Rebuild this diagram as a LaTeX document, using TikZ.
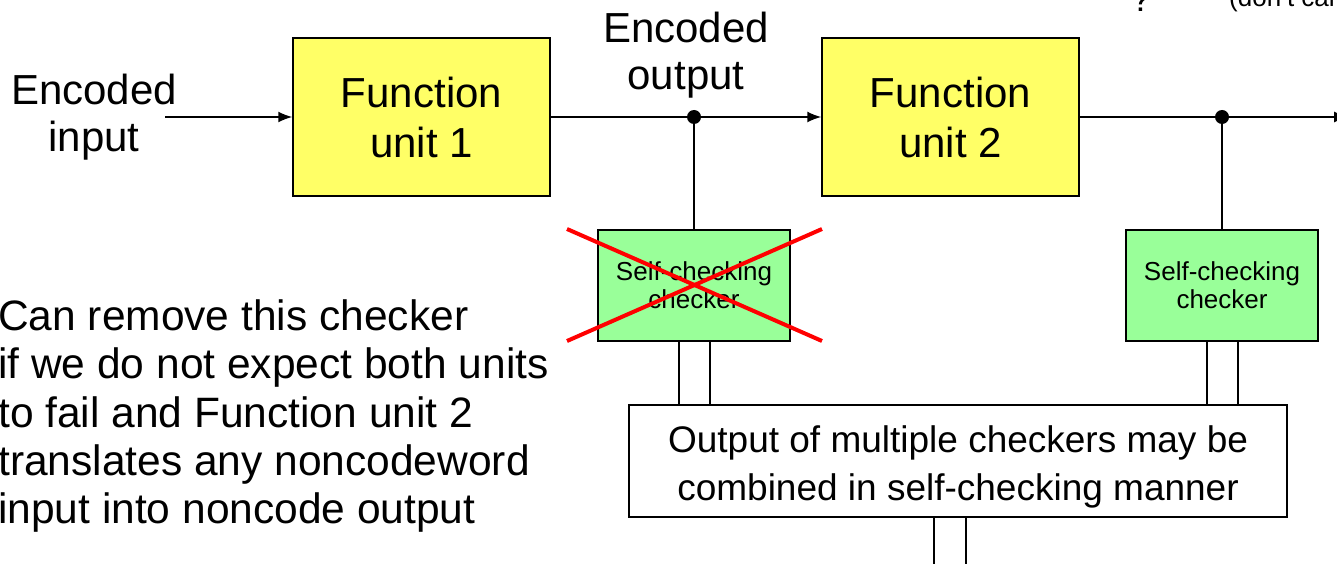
\documentclass[tikz,border=0pt]{standalone}
\usepackage{fontspec}
\setmainfont{Liberation Sans}
\usetikzlibrary{arrows.meta,calc}
\definecolor{unitfill}{HTML}{FFFF66}
\definecolor{chkfill}{HTML}{99FF99}
\begin{document}
\begin{tikzpicture}[x=1pt,y=-1pt,
  wire/.style={line width=1.6pt, black},
  arrowwire/.style={wire, -{Latex[length=14pt,width=11pt]}},
  unitbox/.style={draw=black, line width=1.5pt, fill=unitfill, minimum width=257pt,
    minimum height=158pt, inner sep=0pt, align=center,
    font=\fontsize{42}{50}\selectfont},
  chkbox/.style={draw=black, line width=1.5pt, fill=chkfill, minimum width=192pt,
    minimum height=111pt, inner sep=0pt, align=center,
    font=\fontsize{26}{28}\selectfont},
  combbox/.style={draw=black, line width=1.5pt, fill=white, minimum width=658pt,
    minimum height=112pt, inner sep=0pt, align=center,
    font=\fontsize{37}{48}\selectfont},
  label/.style={inner sep=0pt, align=center, font=\fontsize{42}{47}\selectfont},
  junction/.style={circle, fill=black, inner sep=0pt, minimum size=14pt},
  cross/.style={red, line width=4pt}
]
\useasboundingbox (0,0) rectangle (1337,564);
\clip (0,0) rectangle (1337,564);

% function units
\node[unitbox] (u1) at (421.5,117) {Function\\unit 1};
\node[unitbox] (u2) at (950.5,117) {Function\\unit 2};

% checkers and the combining circuit
\node[chkbox] (chk1) at (694,285.5) {Self-checking\\checker};
\node[chkbox] (chk2) at (1222,285.5) {Self-checking\\checker};
\node[combbox] (comb) at (958,461)
  {\rule{0pt}{38pt}Output of multiple checkers may be\\combined in self-checking manner};

% labels
\node[label] (inlbl) at (94,117.5) {Encoded\\input};
\node[label] (outlbl) at (686,55.5) {Encoded\\output};
\node[label, align=left, anchor=north west, font=\fontsize{42.5}{48.25}\selectfont] (note) at (-2,299.5)
  {Can remove this checker\\if we do not expect both units\\to fail and Function unit 2\\translates any noncodeword\\input into noncode output};
\node[inner sep=0pt, anchor=base, font=\fontsize{36}{40}\selectfont] (qmark) at (1141,12) {?};
\node[inner sep=0pt, anchor=base west, font=\fontsize{26}{30}\selectfont] (dc) at (1229,7) {(don't care)};

% main data path
\coordinate (src) at (165,117);
\coordinate (j1) at (694,117);
\coordinate (j2) at (1222,117);
\coordinate (sink) at (1348,117);
\draw[arrowwire] (src) -- (u1.west);
\draw[arrowwire] (u1.east) -- (u2.west);
\draw[arrowwire] (u2.east) -- (sink);
\draw[wire] (j1) -- (chk1.north);
\draw[wire] (j2) -- (chk2.north);
\node[junction] (d1) at (j1) {};
\node[junction] (d2) at (j2) {};

% two-rail checker outputs
\foreach \c in {chk1,chk2}{
  \foreach \dx in {-15,16}{
    \draw[wire] ($(\c.south)+(\dx,0)$) coordinate (rail) -- (rail |- comb.north);
  }
}
\coordinate (o1) at (934,570);
\coordinate (o2) at (966,570);
\draw[wire] (comb.south -| o1) -- (o1);
\draw[wire] (comb.south -| o2) -- (o2);

% removed checker
\coordinate (x1) at (567,229);
\coordinate (x2) at (822,341);
\coordinate (x3) at (567,341);
\coordinate (x4) at (822,229);
\draw[cross] (x1) -- (x2);
\draw[cross] (x3) -- (x4);
\end{tikzpicture}
\end{document}
